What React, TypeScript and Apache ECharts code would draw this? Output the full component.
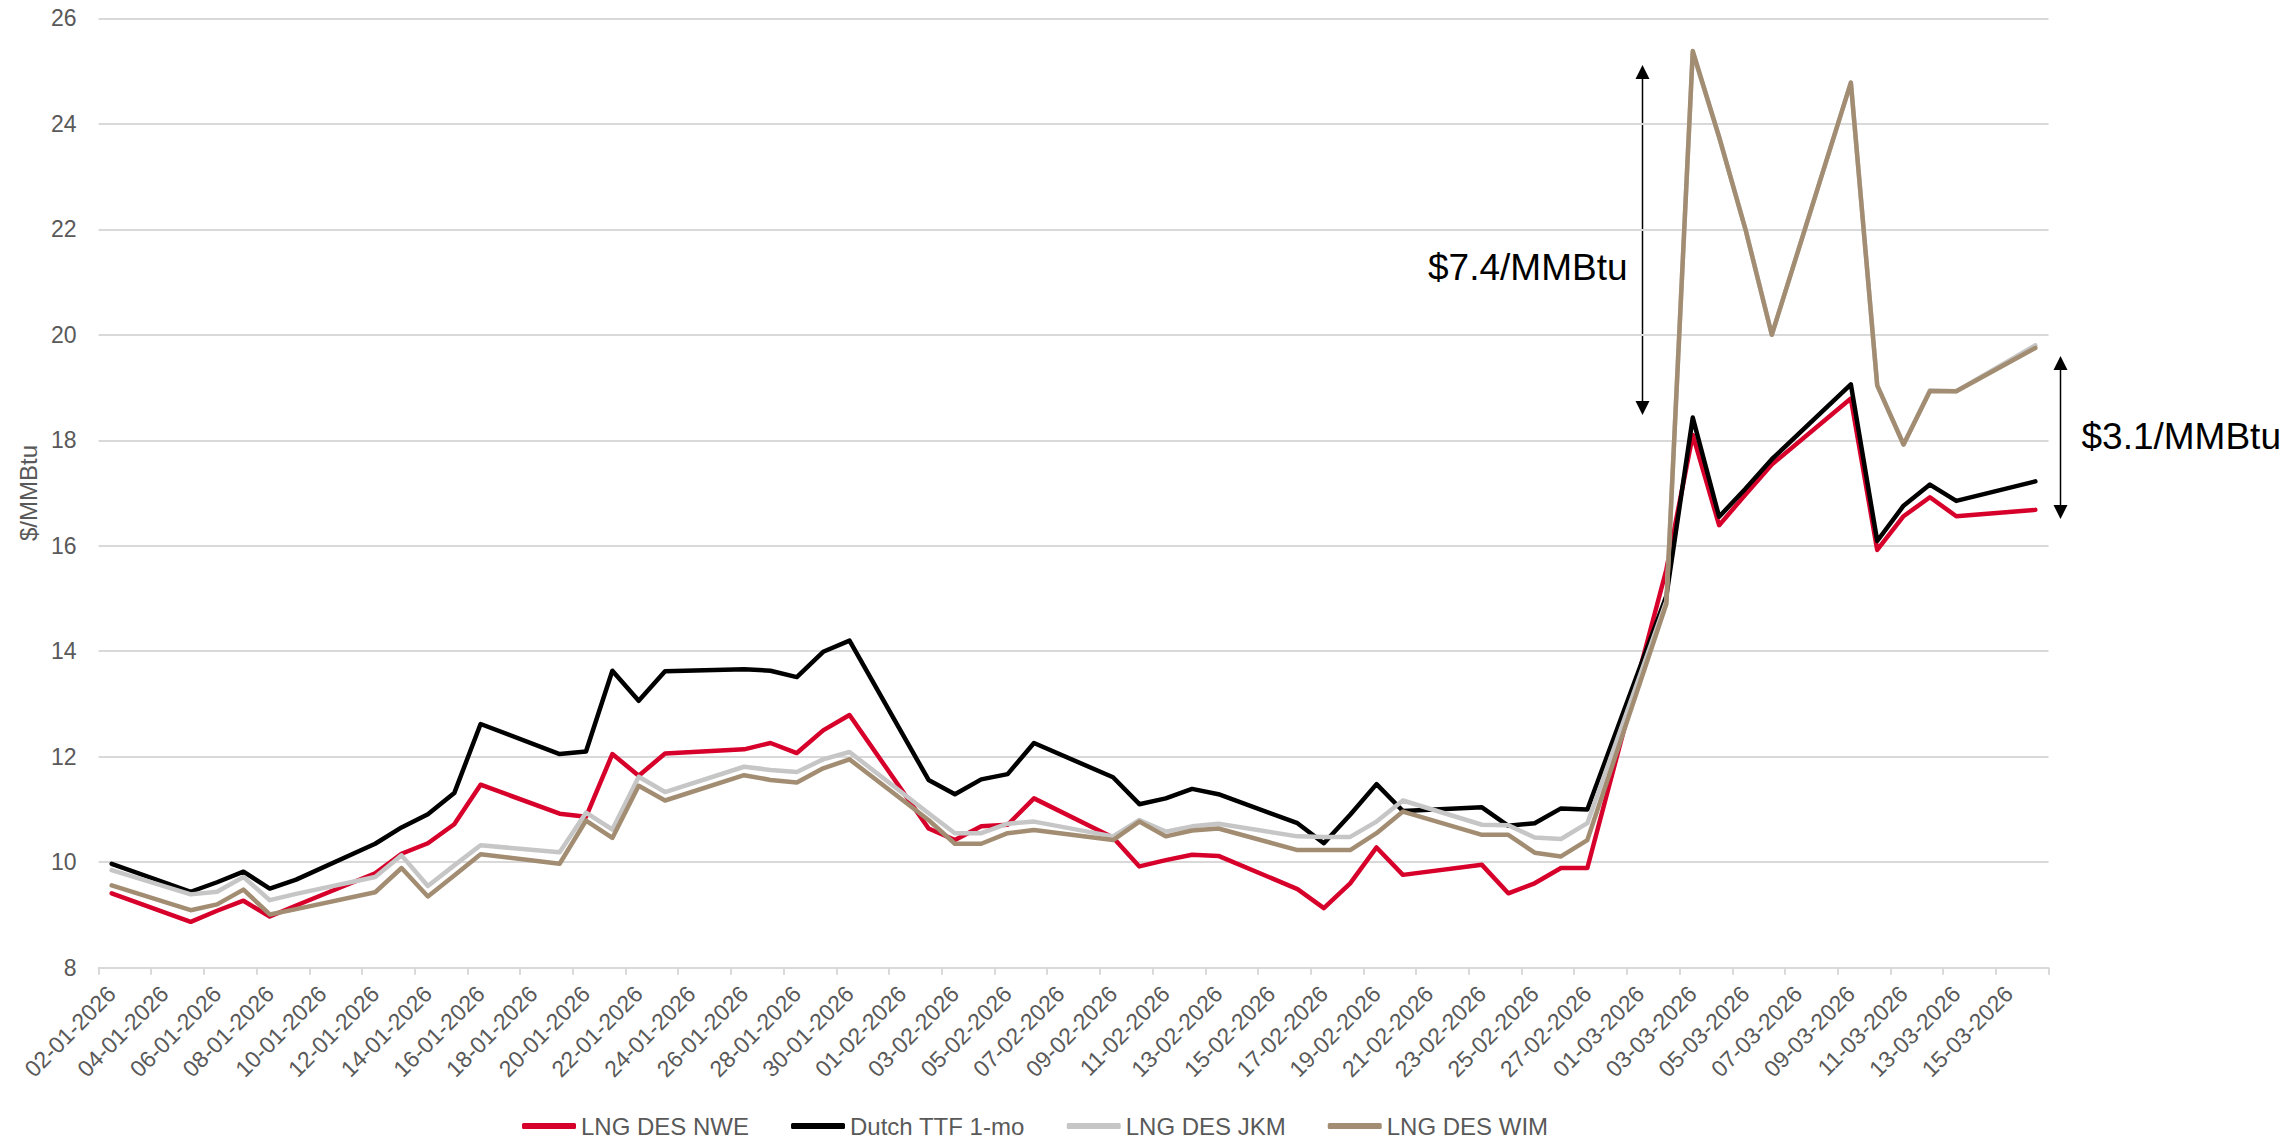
import React, { useEffect, useRef } from "react";
import * as echarts from "echarts";

// Trading days (DD-MM-YYYY)
const tradeDates = [
  "02-01-2026", "05-01-2026", "06-01-2026", "07-01-2026", "08-01-2026", "09-01-2026",
  "12-01-2026", "13-01-2026", "14-01-2026", "15-01-2026", "16-01-2026",
  "19-01-2026", "20-01-2026", "21-01-2026", "22-01-2026", "23-01-2026",
  "26-01-2026", "27-01-2026", "28-01-2026", "29-01-2026", "30-01-2026",
  "02-02-2026", "03-02-2026", "04-02-2026", "05-02-2026", "06-02-2026",
  "09-02-2026", "10-02-2026", "11-02-2026", "12-02-2026", "13-02-2026",
  "16-02-2026", "17-02-2026", "18-02-2026", "19-02-2026", "20-02-2026",
  "23-02-2026", "24-02-2026", "25-02-2026", "26-02-2026", "27-02-2026",
  "02-03-2026", "03-03-2026", "04-03-2026", "05-03-2026", "06-03-2026",
  "09-03-2026", "10-03-2026", "11-03-2026", "12-03-2026", "13-03-2026",
  "16-03-2026",
];

const nwe = [
  9.41, 8.87, 9.08, 9.27, 8.97, 9.18,
  9.79, 10.16, 10.36, 10.72, 11.47,
  10.92, 10.86, 12.05, 11.64, 12.06,
  12.14, 12.26, 12.07, 12.5, 12.79,
  10.64, 10.42, 10.68, 10.71, 11.21,
  10.47, 9.92, 10.04, 10.14, 10.12,
  9.49, 9.13, 9.6, 10.28, 9.76,
  9.95, 9.41, 9.6, 9.89, 9.89,
  15.55, 18.1, 16.39, 16.97, 17.54,
  18.79, 15.92, 16.56, 16.92, 16.56,
  16.68,
];

const ttf = [
  9.97, 9.44, 9.62, 9.82, 9.5, 9.67,
  10.35, 10.66, 10.91, 11.31, 12.62,
  12.05, 12.1, 13.63, 13.06, 13.62,
  13.66, 13.63, 13.51, 13.99, 14.2,
  11.56, 11.29, 11.57, 11.67, 12.26,
  11.61, 11.1, 11.21, 11.39, 11.29,
  10.74, 10.36, 10.9, 11.48, 10.97,
  11.04, 10.69, 10.74, 11.02, 11.0,
  15.05, 18.43, 16.55, 17.08, 17.64,
  19.06, 16.09, 16.76, 17.16, 16.85,
  17.22,
];

const jkm = [
  9.85, 9.39, 9.44, 9.72, 9.28, 9.4,
  9.72, 10.13, 9.55, 9.94, 10.32,
  10.19, 10.94, 10.62, 11.62, 11.33,
  11.81, 11.75, 11.71, 11.95, 12.09,
  10.93, 10.55, 10.55, 10.73, 10.77,
  10.49, 10.8, 10.58, 10.68, 10.73,
  10.49, 10.48, 10.48, 10.77, 11.17,
  10.71, 10.7, 10.47, 10.44, 10.74,
  14.95, 25.35, 23.75, 22.0, 20.0,
  24.78, 19.04, 17.92, 18.95, 18.93,
  19.8,
];

const wim = [
  9.56, 9.09, 9.2, 9.48, 9.01, 9.11,
  9.43, 9.89, 9.35, 9.75, 10.15,
  9.97, 10.79, 10.46, 11.45, 11.17,
  11.65, 11.56, 11.51, 11.78, 11.95,
  10.8, 10.35, 10.35, 10.55, 10.61,
  10.42, 10.77, 10.49, 10.6, 10.64,
  10.23, 10.23, 10.23, 10.55, 10.96,
  10.52, 10.52, 10.18, 10.11, 10.42,
  14.9, 25.38, 23.75, 22.0, 20.0,
  24.78, 19.04, 17.92, 18.93, 18.93,
  19.75,
];

const seriesNames = ["LNG DES NWE", "Dutch TTF 1-mo", "LNG DES JKM", "LNG DES WIM"];
const seriesColors = ["#D7002B", "#000000", "#C6C6C6", "#A28D72"];
const yTicks = { min: 8, max: 26, interval: 2 };
const annotations = ["$7.4/MMBtu", "$3.1/MMBtu"];

const FONT = "'Liberation Sans', Arial, sans-serif";

function parseDate(s: string) {
  const [d, m, y] = s.split("-").map(Number);
  return Date.UTC(y, m - 1, d);
}
function fmt(t: number) {
  const d = new Date(t);
  const dd = String(d.getUTCDate()).padStart(2, "0");
  const mm = String(d.getUTCMonth() + 1).padStart(2, "0");
  return `${dd}-${mm}-${d.getUTCFullYear()}`;
}

export default function App() {
  const ref = useRef<HTMLDivElement>(null);

  useEffect(() => {
    if (!ref.current) return;
    const chart = echarts.init(ref.current, undefined, { renderer: "svg" });

    const start = parseDate(tradeDates[0]);
    const end = parseDate(tradeDates[tradeDates.length - 1]);
    const allDays: string[] = [];
    for (let t = start; t <= end; t += 86400000) allDays.push(fmt(t));
    const pos = new Map(tradeDates.map((d, i) => [d, i]));
    const toCal = (vals: number[]) =>
      allDays.map((d) => (pos.has(d) ? vals[pos.get(d) as number] : null));

    const all = [nwe, ttf, jkm, wim];

    const arrow = (x: number, top: number, bottom: number) => {
      const hw = 7, hh = 14;
      return [
        {
          type: "line",
          shape: { x1: x, y1: top + hh - 1, x2: x, y2: bottom - hh + 1 },
          style: { stroke: "#000", lineWidth: 1.5 },
        },
        {
          type: "polygon",
          shape: { points: [[x, top], [x - hw, top + hh], [x + hw, top + hh]] },
          style: { fill: "#000" },
        },
        {
          type: "polygon",
          shape: { points: [[x, bottom], [x - hw, bottom - hh], [x + hw, bottom - hh]] },
          style: { fill: "#000" },
        },
      ];
    };

    chart.setOption({
      animation: false,
      backgroundColor: "#ffffff",
      textStyle: { fontFamily: FONT },
      grid: { left: 98.5, top: 18.3, width: 1950, height: 949.4, containLabel: false },
      legend: {
        data: seriesNames,
        left: 522,
        top: 1114,
        padding: 0,
        icon: "roundRect",
        itemWidth: 54,
        itemHeight: 6,
        itemGap: 42,
        textStyle: { fontSize: 24, color: "#595959", fontFamily: FONT },
      },
      xAxis: {
        type: "category",
        data: allDays,
        boundaryGap: true,
        axisLine: { show: true, lineStyle: { color: "#D9D9D9", width: 2 } },
        axisTick: { show: true, interval: 1, length: 7, lineStyle: { color: "#D9D9D9", width: 2 } },
        axisLabel: {
          interval: 1,
          rotate: 45,
          margin: 22,
          fontSize: 23,
          color: "#595959",
          fontFamily: FONT,
        },
        splitLine: { show: false },
      },
      yAxis: {
        type: "value",
        min: yTicks.min,
        max: yTicks.max,
        interval: yTicks.interval,
        axisLine: { show: false },
        axisTick: { show: false },
        axisLabel: { fontSize: 23, color: "#595959", margin: 22, fontFamily: FONT },
        splitLine: { lineStyle: { color: "#D9D9D9", width: 1.8 } },
      },
      series: all.map((vals, i) => ({
        name: seriesNames[i],
        type: "line",
        data: toCal(vals),
        connectNulls: true,
        symbol: "none",
        showSymbol: false,
        color: seriesColors[i],
        lineStyle: { width: 4.5, color: seriesColors[i], cap: "round", join: "round" },
        emphasis: { disabled: true },
        z: 2 + i,
      })),
      graphic: [
        {
          type: "text",
          x: 28,
          y: 493,
          rotation: Math.PI / 2,
          style: {
            text: "$/MMBtu",
            fontSize: 24,
            fill: "#595959",
            fontFamily: FONT,
            align: "center",
            verticalAlign: "middle",
          },
        },
        ...arrow(1642.5, 65, 415),
        ...arrow(2060.5, 356, 519),
        {
          type: "text",
          x: 1627.5,
          y: 267,
          style: {
            text: annotations[0],
            fontSize: 37,
            fill: "#000",
            fontFamily: FONT,
            align: "right",
            verticalAlign: "middle",
          },
        },
        {
          type: "text",
          x: 2081.5,
          y: 436,
          style: {
            text: annotations[1],
            fontSize: 37,
            fill: "#000",
            fontFamily: FONT,
            align: "left",
            verticalAlign: "middle",
          },
        },
      ],
    });

    return () => chart.dispose();
  }, []);

  return (
    <div
      ref={ref}
      style={{ position: "fixed", left: 0, top: 0, width: 2292, height: 1138, background: "#fff" }}
    />
  );
}
